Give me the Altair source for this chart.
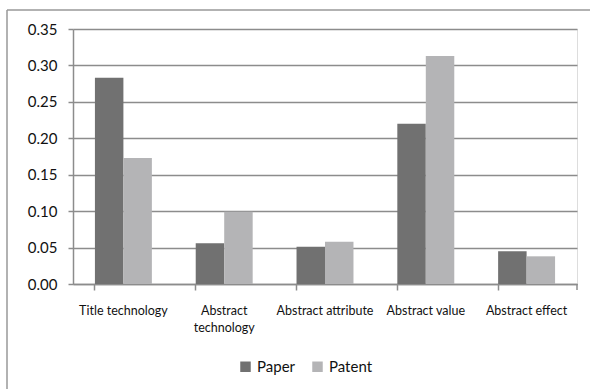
import altair as alt
import pandas as pd

categories = ["Title technology", "Abstract technology", "Abstract attribute", "Abstract value", "Abstract effect"]
paper = [0.283, 0.056, 0.051, 0.220, 0.045]
patent = [0.173, 0.099, 0.058, 0.313, 0.038]
series = ["Paper", "Patent"]
colors = ["#717171", "#b4b4b6"]
y_ticks = [0.0, 0.05, 0.10, 0.15, 0.20, 0.25, 0.30, 0.35]

rows = []
for c, a, b in zip(categories, paper, patent):
    rows.append({"cat": c, "series": "Paper", "value": a})
    rows.append({"cat": c, "series": "Patent", "value": b})
df = pd.DataFrame(rows)

FONT = "Lato"

bars = alt.Chart(df).mark_bar().encode(
    x=alt.X("cat:N", sort=categories, title=None,
            scale=alt.Scale(paddingInner=0.435, paddingOuter=0.2175),
            axis=alt.Axis(labelAngle=0, labelFont=FONT, labelFontSize=12.5, labelColor="#111111",
                          labelPadding=14, tickSize=6, bandPosition=0, tickColor="#8c8c8c",
                          domainColor="#8c8c8c", domainWidth=1.5, tickWidth=1.5,
                          labelBaseline="top", labelLineHeight=17,
                          labelExpr="datum.value == 'Abstract technology' ? ['Abstract', 'technology'] : datum.value")),
    xOffset=alt.XOffset("series:N", sort=series, scale=alt.Scale(paddingInner=0, paddingOuter=0)),
    y=alt.Y("value:Q", title=None,
            scale=alt.Scale(domain=[0, 0.35], nice=False),
            axis=alt.Axis(values=y_ticks, format=".2f", labelFont=FONT, labelFontSize=15,
                          labelColor="#111111", labelPadding=11, tickSize=5, tickColor="#8c8c8c",
                          tickWidth=1.5, domainColor="#8c8c8c", domainWidth=1.5,
                          grid=True, gridColor="#8c8c8c", gridWidth=1.5)),
    color=alt.Color("series:N", sort=series, title=None,
                    scale=alt.Scale(domain=series, range=colors),
                    legend=alt.Legend(orient="none", direction="horizontal", legendX=165, legendY=330,
                                      symbolType="square", symbolSize=110, symbolStrokeWidth=0,
                                      labelFont=FONT, labelFontSize=15, labelColor="#111111",
                                      columnPadding=14, labelOffset=4)),
)

one = pd.DataFrame({"k": [0]})
frame_top = alt.Chart(one).mark_rule(color="#999999", strokeWidth=1.5).encode(
    x=alt.value(-66), x2=alt.value(520), y=alt.value(-19)
)
frame_left = alt.Chart(one).mark_rule(color="#999999", strokeWidth=1.5).encode(
    x=alt.value(-66), y=alt.value(-19), y2=alt.value(400)
)
end_tick = alt.Chart(one).mark_rule(color="#8c8c8c", strokeWidth=1.5).encode(
    x=alt.value(504), y=alt.value(255), y2=alt.value(261)
)

chart = alt.layer(bars, frame_top, frame_left, end_tick).properties(
    width=504, height=255,
    padding={"left": 73, "top": 29, "right": 13, "bottom": 105},
    autosize=alt.AutoSizeParams(type="none"),
).configure_view(stroke=None).configure(background="white")

chart.save("out.html", embed_options={"renderer": "svg", "actions": False})
